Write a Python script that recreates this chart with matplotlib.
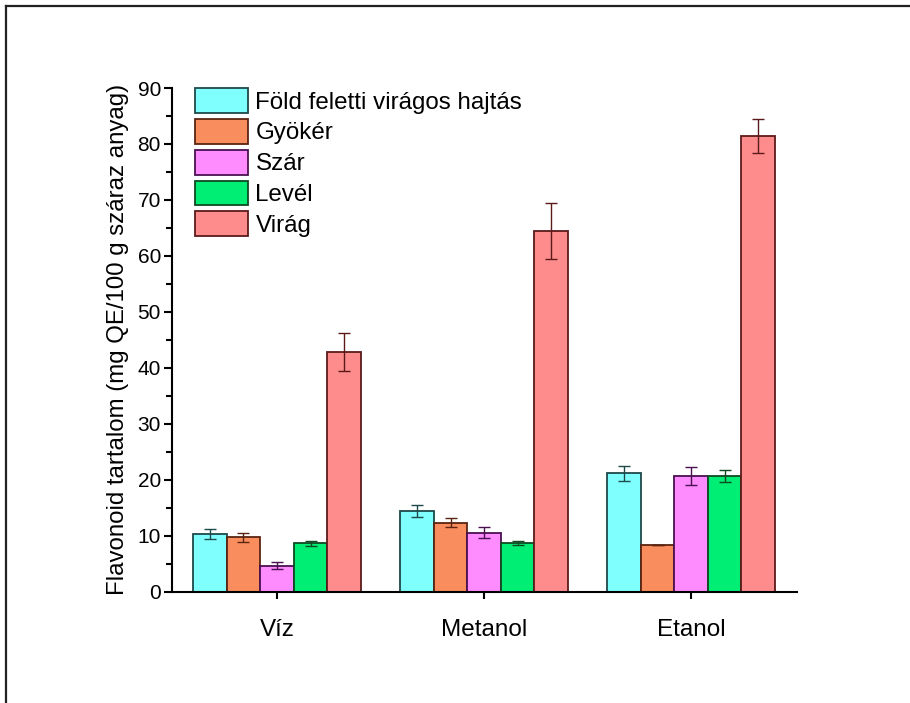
import numpy as np
import matplotlib
matplotlib.use("Agg")
from matplotlib import pyplot as plt
from matplotlib.lines import Line2D

plt.rcParams['font.family'] = ['Liberation Sans', 'DejaVu Sans']

# adatok
oldoszerek = ["Víz", "Metanol", "Etanol"]
reszek = ["Föld feletti virágos hajtás", "Gyökér", "Szár", "Levél", "Virág"]

fold_feletti = [10.2, 14.4, 21.1]
gyoker = [9.7, 12.3, 8.3]
szar = [4.6, 10.5, 20.7]
level = [8.6, 8.7, 20.7]
virag = [42.8, 64.5, 81.4]

s_fold_feletti = [0.9, 1.0, 1.4]
s_gyoker = [0.8, 0.8, 0.0]
s_szar = [0.6, 1.0, 1.6]
s_level = [0.5, 0.4, 1.1]
s_virag = [3.4, 5.0, 3.0]

ertekek = [fold_feletti, gyoker, szar, level, virag]
hibak = [s_fold_feletti, s_gyoker, s_szar, s_level, s_virag]

szinek = ["#80FFFF", "#FA8D5E", "#FF8CFF", "#00EE73", "#FF8C8C"]
keretek = ["#1E4A4A", "#5A2410", "#4A1050", "#0F4A22", "#5A1A1A"]

fig = plt.figure(figsize=(9.1, 7.03), dpi=100)
ax = fig.add_axes([0.189, 0.1586, 0.687, 0.7162])

x = np.arange(len(oldoszerek))
w = 0.162
for i in range(len(reszek)):
    pos = x + (i - 2) * w
    ax.bar(pos, ertekek[i], w, color=szinek[i], edgecolor=keretek[i],
           linewidth=1.3, label=reszek[i])
    ax.errorbar(pos, ertekek[i], yerr=hibak[i], fmt='none', ecolor=keretek[i],
                elinewidth=1.0, capsize=4.5, capthick=1.0)

ax.set_xlim(-0.507, 2.512)
ax.set_ylim(0, 90)
ax.set_yticks(np.arange(0, 91, 10))
ax.set_yticks(np.arange(5, 90, 10), minor=True)
ax.set_xticks(x)
ax.set_xticklabels(oldoszerek, fontsize=17.5)
ax.tick_params(axis='y', labelsize=15, width=1.5, length=6, pad=2, direction='out')
ax.tick_params(axis='y', which='minor', width=1.5, length=4)
ax.tick_params(axis='x', width=1.5, length=5, pad=15)

for s in ['top', 'right']:
    ax.spines[s].set_visible(False)
for s in ['left', 'bottom']:
    ax.spines[s].set_linewidth(1.5)

ax.set_ylabel('Flavonoid tartalom (mg QE/100 g száraz anyag)', fontsize=17.3, labelpad=6)

ax.legend(loc='upper left', bbox_to_anchor=(23 / 625, 1.0), frameon=False,
          fontsize=17.4, handlelength=2.2, handleheight=1.2, labelspacing=0.22,
          handletextpad=0.3, borderpad=0, borderaxespad=0)

# keret
fig.add_artist(Line2D([6 / 910, 1], [1 - 6 / 703, 1 - 6 / 703], color='#222222', lw=1.6))
fig.add_artist(Line2D([6 / 910, 6 / 910], [0, 1 - 6 / 703], color='#222222', lw=1.6))

plt.savefig('out.png', dpi=100)
